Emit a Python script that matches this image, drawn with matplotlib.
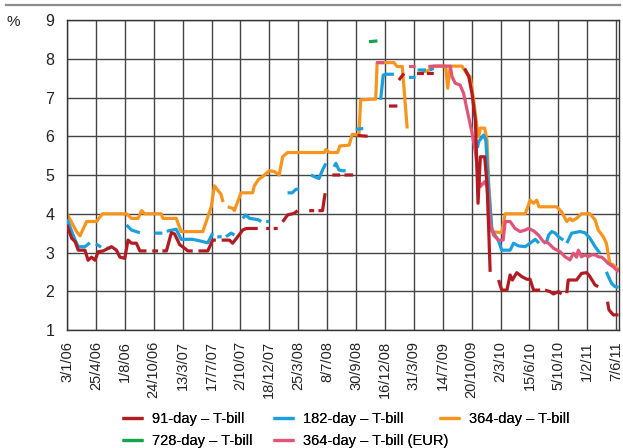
import numpy as np
import matplotlib
import matplotlib.pyplot as plt

matplotlib.use("Agg")

plt.rcParams["font.family"] = ["Liberation Sans Narrow", "Liberation Sans", "DejaVu Sans"]

gap = (np.nan, np.nan)

# Auction dates shown on the x axis (evenly spaced, one per tick)
dateLabels = ["3/1/06", "25/4/06", "1/8/06", "24/10/06", "13/3/07", "17/7/07", "2/10/07", "18/12/07",
              "25/3/08", "8/7/08", "30/9/08", "16/12/08", "31/3/09", "14/7/09", "20/10/09", "2/3/10",
              "15/6/10", "5/10/10", "1/2/11", "7/6/11"]

# (position in tick units, yield %), gaps where no auction took place
bill91 = [(0.0, 3.71), (0.16, 3.37), (0.28, 3.28), (0.39, 3.06), (0.62, 3.06), (0.73, 2.8), (0.85, 2.88),
          (0.97, 2.8), (1.08, 3.02), (1.25, 3.04), (1.54, 3.15), (1.71, 3.06), (1.83, 2.88), (2.0, 2.85),
          (2.11, 3.32), (2.23, 3.24), (2.40, 3.24), (2.52, 3.04), (2.75, 3.04), gap, (2.95, 3.04), (3.15, 3.04),
          gap, (3.3, 3.04), (3.44, 3.04), (3.61, 3.51), (3.72, 3.48), (3.90, 3.2), (4.07, 3.11), (4.18, 3.04),
          (4.35, 3.04), gap, (4.55, 3.04), (4.87, 3.04), (5.04, 3.32), (5.15, 3.32), gap, (5.35, 3.32),
          (5.62, 3.32), (5.73, 3.24), (5.91, 3.41), (6.08, 3.58), (6.20, 3.62), (6.60, 3.62), gap, (6.89, 3.62),
          (7.0, 3.62), gap, (7.15, 3.62), (7.29, 3.62), gap, (7.46, 3.79), (7.63, 3.97), (7.86, 4.01),
          (7.98, 4.08), gap, (8.38, 4.08), (8.55, 4.08), gap, (8.7, 4.08), (8.84, 4.08), (8.93, 4.53), gap,
          (9.18, 5.0), (9.45, 5.0), gap, (9.6, 5.0), (9.9, 5.0), gap, (10.05, 6.02), (10.4, 6.0), gap,
          (11.14, 6.78), (11.43, 6.78), gap, (11.48, 7.45), (11.66, 7.62), gap, (12.11, 7.62), (12.35, 7.62),
          gap, (12.45, 7.62), (12.69, 7.62), gap, (13.76, 7.75), (13.9, 7.54), (14.01, 7.11), (14.13, 6.4),
          (14.22, 4.27), (14.30, 5.47), (14.45, 5.47), (14.53, 4.78), (14.59, 3.58), (14.64, 2.5), gap,
          (14.93, 2.29), (15.04, 2.03), (15.22, 2.03), (15.33, 2.42), (15.41, 2.29), (15.56, 2.48),
          (15.73, 2.38), (15.91, 2.31), (16.02, 2.31), (16.14, 2.03), (16.37, 2.03), gap, (16.54, 2.03),
          (16.71, 1.99), (16.83, 1.93), (17.0, 1.99), (17.11, 1.93), gap, (17.29, 1.95), (17.34, 2.29),
          (17.63, 2.29), (17.80, 2.46), (17.98, 2.48), (18.09, 2.38), (18.27, 2.16), (18.38, 2.12), gap,
          (18.7, 1.73), (18.75, 1.52), (18.9, 1.39), (19.08, 1.39)]

bill182 = [(0.0, 3.86), (0.10, 3.67), (0.28, 3.32), (0.39, 3.15), (0.62, 3.15), (0.79, 3.25), gap, (1.0, 3.22),
           (1.18, 3.14), gap, (1.36, 3.11), (1.5, 3.11), gap, (2.06, 3.71), (2.23, 3.58), (2.52, 3.51), gap,
           (3.03, 3.5), (3.3, 3.5), gap, (3.45, 3.55), (3.78, 3.6), (3.95, 3.34), (4.36, 3.34), (4.59, 3.3),
           (4.87, 3.25), (5.04, 3.5), gap, (5.2, 3.4), (5.35, 3.41), gap, (5.5, 3.41), (5.68, 3.5), (5.79, 3.45),
           gap, (6.08, 3.88), (6.18, 3.97), (6.32, 3.88), (6.6, 3.85), (6.72, 3.8), gap, (6.89, 3.8), (7.0, 3.8),
           gap, (7.63, 4.54), (7.79, 4.54), (7.92, 4.63), (8.02, 4.63), gap, (8.44, 5.0), (8.61, 4.94),
           (8.72, 4.91), (8.84, 5.13), (8.96, 5.3), gap, (9.24, 5.21), (9.3, 5.3), (9.41, 5.13), (9.53, 5.11),
           (9.64, 5.11), gap, (9.99, 6.18), (10.25, 6.2), gap, (10.85, 6.94), (10.94, 7.58), (11.03, 7.6),
           (11.31, 7.6), gap, (11.83, 7.52), (12.06, 7.52), gap, (12.13, 7.71), (12.42, 7.71), gap,
           (12.55, 7.71), (12.69, 7.75), gap, (14.2, 5.7), (14.24, 5.86), (14.41, 6.03), (14.49, 5.9),
           (14.59, 4.6), (14.70, 3.58), (14.93, 3.3), (15.04, 3.06), (15.33, 3.06), (15.45, 3.24), (15.62, 3.17),
           (15.85, 3.15), (16.02, 3.24), (16.20, 3.34), (16.33, 3.24), gap, (16.48, 3.24), (16.6, 3.28),
           (16.66, 3.45), (16.77, 3.54), (16.89, 3.5), (17.0, 3.41), (17.17, 3.32), gap, (17.29, 3.24),
           (17.46, 3.5), (17.75, 3.54), (17.92, 3.51), (18.09, 3.37), (18.27, 3.15), (18.44, 2.98), gap,
           (18.66, 2.5), (18.84, 2.2), (18.96, 2.12), (19.08, 2.1)]

bill364 = [(0.0, 4.0), (0.33, 3.54), (0.45, 3.43), (0.68, 3.8), (1.02, 3.8), (1.23, 4.0), (2.06, 4.0),
           (2.23, 3.88), (2.46, 3.88), (2.58, 4.08), (2.69, 4.0), (3.26, 4.0), (3.32, 3.88), (3.78, 3.88),
           (3.95, 3.54), (4.70, 3.54), (4.99, 4.18), (5.10, 4.72), (5.33, 4.5), (5.4, 4.3), gap, (5.56, 4.18),
           (5.73, 4.14), (5.79, 4.08), (6.02, 4.54), (6.42, 4.54), (6.48, 4.72), (6.63, 4.89), (6.77, 4.96),
           (7.0, 5.11), (7.17, 5.09), (7.34, 5.0), (7.46, 5.47), (7.63, 5.58), (8.9, 5.58), (8.96, 5.66),
           (9.07, 5.58), (9.36, 5.58), (9.44, 5.75), (9.76, 5.77), (9.87, 6.05), (10.1, 6.03), (10.16, 6.94),
           (10.68, 6.96), (10.73, 7.9), (11.31, 7.9), (11.42, 7.8), (11.6, 7.8), (11.77, 6.2), gap,
           (12.28, 7.65), (12.5, 7.7), (12.69, 7.81), (13.1, 7.81), (13.17, 7.24), (13.26, 7.81), (13.66, 7.81),
           (13.83, 7.62), (13.95, 7.54), (14.07, 6.94), (14.18, 6.25), (14.24, 5.99), (14.30, 6.21),
           (14.45, 6.21), (14.53, 5.9), (14.59, 4.79), (14.70, 3.54), (15.04, 3.51), (15.16, 4.0), (15.85, 4.0),
           (15.97, 4.23), (16.02, 4.35), (16.14, 4.27), (16.25, 4.35), (16.33, 4.18), (16.94, 4.18),
           (17.11, 4.05), (17.29, 3.8), (17.4, 3.88), (17.48, 3.82), (17.63, 3.88), (17.80, 4.0), (18.09, 4.0),
           (18.27, 3.84), (18.38, 3.58), (18.55, 3.41), (18.66, 3.24), (18.78, 2.72), (18.9, 2.68),
           (19.08, 2.55)]

bill728 = [(10.45, 8.44), (10.74, 8.46)]

bill364Eur = [(10.7, 7.9), (10.97, 7.9), gap, (11.83, 7.8), (12.06, 7.8), gap, (12.5, 7.8), (12.69, 7.81),
              (13.26, 7.81), (13.32, 7.54), (13.43, 7.37), (13.6, 7.32), (13.72, 7.11), (13.83, 6.72),
              (14.01, 6.1), (14.13, 5.6), (14.22, 5.0), (14.30, 4.7), (14.45, 4.83), (14.53, 4.7), (14.64, 3.75),
              (14.76, 3.45), (14.93, 3.32), (15.09, 3.32), (15.16, 3.8), (15.33, 3.8), (15.5, 3.62),
              (15.68, 3.54), (15.85, 3.58), (15.97, 3.62), (16.14, 3.56), (16.31, 3.45), (16.48, 3.28),
              (16.66, 3.24), (16.83, 3.11), (17.06, 3.02), (17.23, 2.89), (17.4, 2.81), (17.52, 2.98),
              (17.63, 2.88), (17.69, 3.06), (17.80, 2.89), (17.92, 2.94), (18.03, 2.89), (18.15, 2.94),
              (18.27, 2.94), (18.38, 2.89), (18.5, 2.88), (18.61, 2.81), (18.72, 2.72), (18.9, 2.63),
              (19.08, 2.5)]

# label, data, colour, drawing order
series = [("91-day – T-bill", bill91, "#b31b23", 5),
          ("182-day – T-bill", bill182, "#1aa0dc", 3),
          ("364-day – T-bill", bill364, "#f7941d", 2),
          ("728-day – T-bill", bill728, "#12a64a", 5),
          ("364-day – T-bill (EUR)", bill364Eur, "#e05577", 4)]

fig = plt.figure(figsize=(6.23, 4.48), dpi=100)
ax = fig.add_axes([67 / 623, 1 - 330 / 448, 551.5 / 623, 310 / 448])

lines = []
for label, data, colour, z in series:
    arr = np.array(data, dtype=float)
    line, = ax.plot(arr[:, 0], arr[:, 1], color=colour, lw=2.3, zorder=z, label=label,
                    solid_joinstyle="round", solid_capstyle="butt")
    lines.append(line)

ax.set_xlim(0, 19.08)
ax.set_ylim(1, 9)
ax.set_xticks(np.arange(len(dateLabels)))
ax.set_xticklabels(dateLabels, rotation=90, fontsize=10.5, color="#222222")
ax.set_yticks(np.arange(1, 10))
ax.set_yticklabels([str(v) for v in range(1, 10)], fontsize=11.5, color="#222222")
ax.tick_params(axis="both", length=0)
ax.tick_params(axis="x", pad=8)
ax.tick_params(axis="y", pad=9)
ax.grid(True, color="#444444", lw=1.0, zorder=0)
ax.set_axisbelow(True)
for s in ax.spines.values():
    s.set_color("#333333")
    s.set_linewidth(1.0)

# Percent sign and the rule above the chart
fig.text(13 / 623, 1 - 22 / 448, "%", fontsize=11, ha="center", va="center", color="#222222")
fig.add_artist(plt.Line2D([6 / 623, 620 / 623], [1 - 5 / 448, 1 - 5 / 448], color="#8c8c8c", lw=1.6))

# Legend: one small legend per entry so each sits where it does in the original
legendSpots = [(122, 419), (273, 419), (439, 419), (122, 441), (273, 441)]
for line, (lx, ly) in zip(lines, legendSpots):
    leg = fig.legend(handles=[line], loc="center left", bbox_to_anchor=(lx / 623, 1 - ly / 448),
                     frameon=False, fontsize=10.5, handlelength=1.45, handletextpad=0.6,
                     borderpad=0, borderaxespad=0)
    fig.add_artist(leg)

plt.savefig("out.png", dpi=100)
